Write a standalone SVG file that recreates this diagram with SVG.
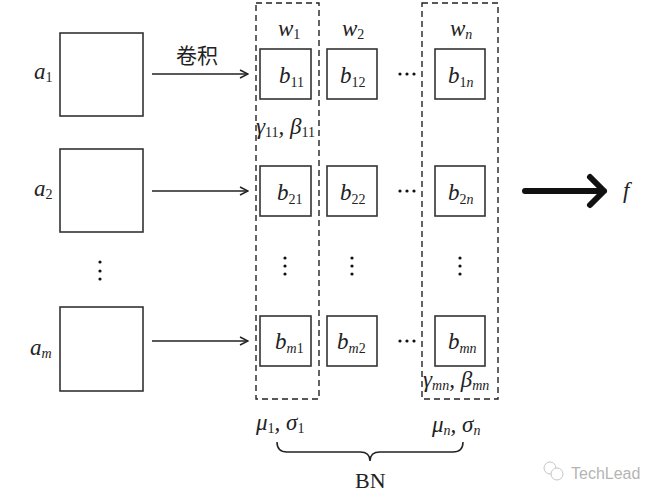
<svg xmlns="http://www.w3.org/2000/svg" width="667" height="500" viewBox="0 0 667 500">
<style>
.box{fill:#fff;stroke:#333;stroke-width:1.6}
.dash{fill:none;stroke:#222;stroke-width:1.4;stroke-dasharray:6,4}
.m{font-family:"Liberation Serif",serif;font-style:italic;font-size:23px;fill:#222}
.s{font-size:14px}
.u{font-style:normal}
.r{font-family:"Liberation Serif",serif;font-size:22px;fill:#222}
.cn{font-family:"Liberation Serif","Noto Sans CJK SC",serif;font-size:21px;fill:#222}
.conn{stroke:#222;stroke-width:1.5;fill:none}
.dot{fill:#111}
</style>
<defs>
<marker id="ah" viewBox="0 0 10 10" refX="9" refY="5" markerWidth="10" markerHeight="10" markerUnits="userSpaceOnUse" orient="auto">
<path d="M1,1 L9,5 L1,9" fill="none" stroke="#222" stroke-width="1.5"/>
</marker>
</defs>
<rect width="667" height="500" fill="#fff"/>

<g id="a1"><rect class="box" x="60" y="33" width="83" height="83"/><text class="m" x="34" y="79">a<tspan class="s u" dy="3">1</tspan></text></g>
<g id="a2"><rect class="box" x="60" y="149" width="83" height="83"/><text class="m" x="34" y="196">a<tspan class="s u" dy="3">2</tspan></text></g>
<g id="am"><rect class="box" x="60" y="307" width="83" height="84"/><text class="m" x="30" y="355">a<tspan class="s" dy="3">m</tspan></text></g>
<g id="vdots-a"><circle class="dot" cx="100" cy="262" r="1.6"/><circle class="dot" cx="100" cy="271" r="1.6"/><circle class="dot" cx="100" cy="279" r="1.6"/></g>

<g id="connectors">
<line class="conn" x1="152" y1="74" x2="248" y2="74" marker-end="url(#ah)"/>
<line class="conn" x1="152" y1="191" x2="248" y2="191" marker-end="url(#ah)"/>
<line class="conn" x1="152" y1="341" x2="248" y2="341" marker-end="url(#ah)"/>
<path d="M525,191 L604,191 M590,177 L604,191 L590,205" fill="none" stroke="#111" stroke-width="6" stroke-linecap="round" stroke-linejoin="round"/>
</g>
<text class="cn" x="176" y="63">卷积</text>

<g id="col1"><rect class="dash" x="256" y="3" width="63" height="396"/></g>
<g id="coln"><rect class="dash" x="422" y="3" width="76" height="396"/></g>

<text class="m" x="278" y="36">w<tspan class="s u" dy="3">1</tspan></text>
<text class="m" x="342" y="36">w<tspan class="s u" dy="3">2</tspan></text>
<text class="m" x="450" y="36">w<tspan class="s" dy="3">n</tspan></text>

<g id="b11"><rect class="box" x="260" y="49" width="51" height="50"/><text class="m" x="279" y="83">b<tspan class="s u" dy="4">11</tspan></text></g>
<g id="b12"><rect class="box" x="327" y="49" width="50" height="50"/><text class="m" x="340" y="83">b<tspan class="s u" dy="4">12</tspan></text></g>
<g id="b1n"><rect class="box" x="435" y="49" width="50" height="50"/><text class="m" x="448" y="83">b<tspan class="s u" dy="4">1</tspan><tspan class="s">n</tspan></text></g>
<g id="b21"><rect class="box" x="260" y="166" width="51" height="50"/><text class="m" x="277" y="200">b<tspan class="s u" dy="4">21</tspan></text></g>
<g id="b22"><rect class="box" x="327" y="166" width="50" height="50"/><text class="m" x="340" y="200">b<tspan class="s u" dy="4">22</tspan></text></g>
<g id="b2n"><rect class="box" x="435" y="166" width="50" height="50"/><text class="m" x="448" y="200">b<tspan class="s u" dy="4">2</tspan><tspan class="s">n</tspan></text></g>
<g id="bm1"><rect class="box" x="260" y="316" width="51" height="50"/><text class="m" x="275" y="349">b<tspan class="s" dy="4">m</tspan><tspan class="s u">1</tspan></text></g>
<g id="bm2"><rect class="box" x="327" y="316" width="50" height="50"/><text class="m" x="337" y="349">b<tspan class="s" dy="4">m</tspan><tspan class="s u">2</tspan></text></g>
<g id="bmn"><rect class="box" x="435" y="316" width="50" height="50"/><text class="m" x="448" y="349">b<tspan class="s" dy="4">mn</tspan></text></g>

<g id="hdots">
<circle class="dot" cx="400" cy="74" r="1.6"/><circle class="dot" cx="407" cy="74" r="1.6"/><circle class="dot" cx="414" cy="74" r="1.6"/>
<circle class="dot" cx="400" cy="191" r="1.6"/><circle class="dot" cx="407" cy="191" r="1.6"/><circle class="dot" cx="414" cy="191" r="1.6"/>
<circle class="dot" cx="400" cy="341" r="1.6"/><circle class="dot" cx="407" cy="341" r="1.6"/><circle class="dot" cx="414" cy="341" r="1.6"/>
</g>
<g id="vdots-b">
<circle class="dot" cx="285" cy="258" r="1.6"/><circle class="dot" cx="285" cy="266" r="1.6"/><circle class="dot" cx="285" cy="274" r="1.6"/>
<circle class="dot" cx="352" cy="258" r="1.6"/><circle class="dot" cx="352" cy="266" r="1.6"/><circle class="dot" cx="352" cy="274" r="1.6"/>
<circle class="dot" cx="460" cy="258" r="1.6"/><circle class="dot" cx="460" cy="266" r="1.6"/><circle class="dot" cx="460" cy="274" r="1.6"/>
</g>

<text class="m" x="256" y="134">γ<tspan class="s u" dy="3">11</tspan><tspan dy="-3">, β</tspan><tspan class="s u" dy="3">11</tspan></text>
<text class="m" x="423" y="387">γ<tspan class="s" dy="3">mn</tspan><tspan dy="-3">, β</tspan><tspan class="s" dy="3">mn</tspan></text>

<text class="m" x="256" y="430">μ<tspan class="s u" dy="3">1</tspan><tspan dy="-3">, σ</tspan><tspan class="s u" dy="3">1</tspan></text>
<text class="m" x="432" y="432">μ<tspan class="s" dy="3">n</tspan><tspan dy="-3">, σ</tspan><tspan class="s" dy="3">n</tspan></text>

<g id="brace"><path d="M277,442 Q277,452 287,452 L360,452 Q370,452 370,461 Q370,452 380,452 L453,452 Q463,452 463,442" fill="none" stroke="#222" stroke-width="1.5"/></g>
<text class="r" x="355" y="488">BN</text>

<text class="m" x="623" y="198">f</text>

<g id="watermark" opacity="0.55">
<circle cx="550" cy="468" r="6" fill="none" stroke="#999" stroke-width="1"/>
<circle cx="557" cy="474" r="6" fill="#fff" stroke="#999" stroke-width="1"/>
<text x="571" y="479" font-family="Liberation Sans,sans-serif" font-size="16" fill="#777">TechLead</text>
</g>
</svg>
